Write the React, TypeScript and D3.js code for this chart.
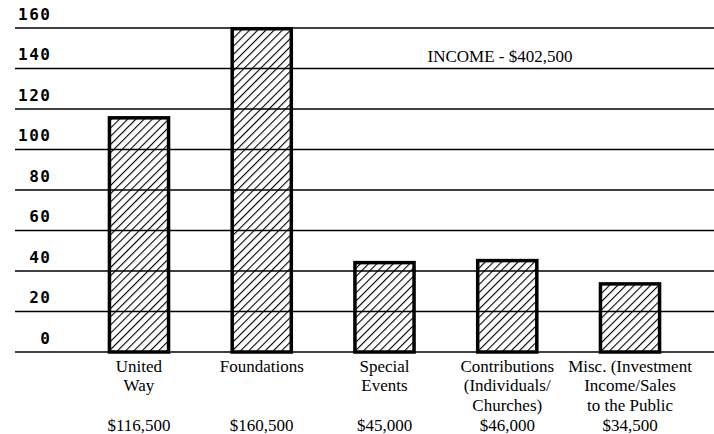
import React from "react";
import * as d3 from "d3";

const categories = ["United Way", "Foundations", "Special Events", "Contributions", "Misc."];
const labelLines = [
    ["United", "Way"],
    ["Foundations"],
    ["Special", "Events"],
    ["Contributions", "(Individuals/", "Churches)"],
    ["Misc. (Investment", "Income/Sales", "to the Public"],
];
const amounts = [116.5, 160.5, 45, 46, 34.5]; // thousands of dollars
const yTicks = [0, 20, 40, 60, 80, 100, 120, 140, 160];
const title = "INCOME - $402,500";

const W = 714;
const H = 434;
const SERIF = "'Liberation Serif', 'Times New Roman', 'DejaVu Serif', serif";

export default function App() {
    const x = d3.scaleBand<string>().domain(categories).range([77, 692]).paddingInner(0.49).paddingOuter(0.25);
    const y = d3.scaleLinear().domain([0, 160]).range([352, 28]);
    const money = d3.format("$,");
    const bw = x.bandwidth();
    const sw = 3.5;

    return (
        <svg width={W} height={H} style={{ position: "absolute", left: 0, top: 0, background: "#fff" }}>
            <defs>
                <pattern id="hatch" patternUnits="userSpaceOnUse" width={5.8} height={5.8} patternTransform="rotate(45)">
                    <line x1={0} y1={0} x2={0} y2={5.8} stroke="#000" strokeWidth={2.2} />
                </pattern>
            </defs>
            <rect width={W} height={H} fill="#fff" />
            {/* bars */}
            {categories.map((c, i) => (
                <rect
                    key={c}
                    x={(x(c) ?? 0) + sw / 2}
                    y={y(amounts[i]) + sw / 2}
                    width={bw - sw}
                    height={y(0) - y(amounts[i]) - sw / 2}
                    fill="url(#hatch)"
                    stroke="#000"
                    strokeWidth={sw}
                />
            ))}
            {/* gridlines, drawn over the bars */}
            <g stroke="#000" strokeWidth={1.6}>
                {yTicks.map((t) => (
                    <line key={t} x1={15} x2={W} y1={y(t)} y2={y(t)} />
                ))}
            </g>
            {/* y labels */}
            <g fontFamily="'DejaVu Sans Mono', monospace" fontWeight="bold" fontSize={16} textAnchor="end" letterSpacing={1.5}>
                {yTicks.map((t) => (
                    <text key={t} x={51.5} y={y(t) - 8.5}>{t}</text>
                ))}
            </g>
            <text x={500} y={62} fontFamily={SERIF} fontSize={17} textAnchor="middle">{title}</text>
            {/* category labels */}
            <g fontFamily={SERIF} fontSize={17} textAnchor="middle">
                {categories.map((c, i) => {
                    const cx = (x(c) ?? 0) + bw / 2;
                    return (
                        <g key={c}>
                            {labelLines[i].map((l, j) => (
                                <text key={j} x={cx} y={371.5 + j * 19.5}>{l}</text>
                            ))}
                            <text x={cx} y={430.5}>{money(amounts[i] * 1000)}</text>
                        </g>
                    );
                })}
            </g>
        </svg>
    );
}
